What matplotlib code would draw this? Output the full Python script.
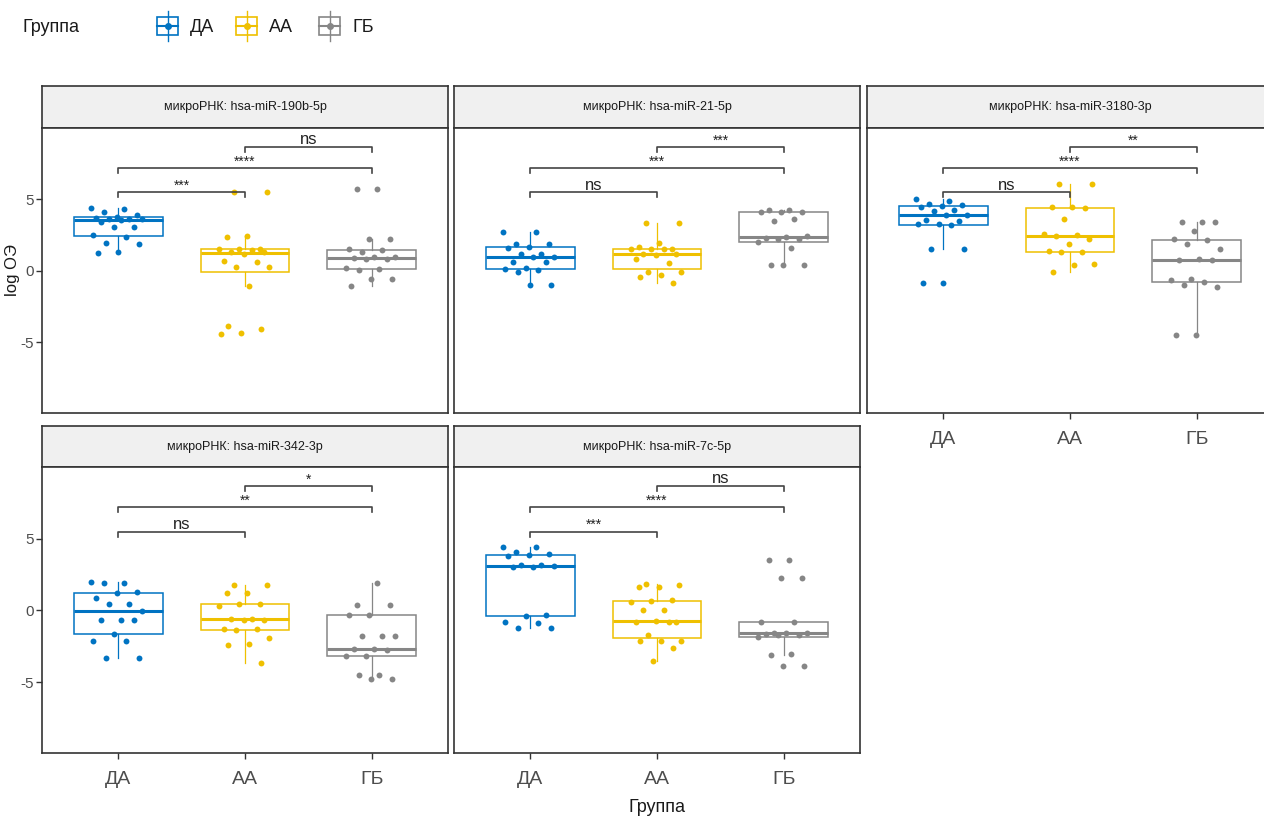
import numpy as np
import matplotlib.pyplot as plt
from matplotlib.patches import Rectangle

plt.rcParams['font.family'] = ['Liberation Sans', 'DejaVu Sans']
plt.rcParams['axes.unicode_minus'] = False

groups = ['ДА', 'АА', 'ГБ']
group_colors = ['#0073C2', '#EFC000', '#868686']

mirnas = ['hsa-miR-190b-5p', 'hsa-miR-21-5p', 'hsa-miR-3180-3p', 'hsa-miR-342-3p', 'hsa-miR-7c-5p']

# log ОЭ per group
mir190b_da = [4.4, 4.3, 4.1, 3.9, 3.8, 3.7, 3.65, 3.6, 3.6, 3.55, 3.4, 3.1, 3.1, 2.5, 2.4, 1.95, 1.9, 1.3, 1.25]
mir190b_aa = [5.5, 5.5, 2.45, 2.4, 1.55, 1.55, 1.5, 1.45, 1.35, 1.3, 1.2, 0.7, 0.6, 0.3, 0.25, -1.05, -3.85, -4.1, -4.35, -4.4]
mir190b_gb = [5.7, 5.7, 2.25, 2.2, 1.5, 1.45, 1.3, 1.0, 0.95, 0.9, 0.85, 0.85, 0.2, 0.15, 0.05, -0.55, -0.6, -1.05]

mir21_da = [2.7, 2.7, 1.9, 1.85, 1.7, 1.6, 1.2, 1.15, 0.95, 0.95, 0.65, 0.65, 0.2, 0.15, 0.05, -0.05, -1.0, -1.0]
mir21_aa = [3.35, 3.35, 1.95, 1.7, 1.55, 1.55, 1.55, 1.5, 1.2, 1.2, 1.1, 0.8, 0.55, -0.05, -0.05, -0.3, -0.4, -0.85]
mir21_gb = [4.25, 4.25, 4.15, 4.1, 4.1, 3.6, 3.5, 2.45, 2.4, 2.3, 2.2, 2.2, 2.0, 1.6, 0.4, 0.4, 0.4]

mir3180_da = [5.0, 4.9, 4.7, 4.6, 4.55, 4.5, 4.25, 4.2, 3.9, 3.9, 3.55, 3.5, 3.3, 3.25, 3.2, 1.55, 1.55, -0.85, -0.85]
mir3180_aa = [6.1, 6.1, 4.5, 4.45, 4.4, 3.6, 2.55, 2.5, 2.45, 2.2, 1.9, 1.4, 1.35, 1.35, 0.45, 0.4, -0.05]
mir3180_gb = [3.4, 3.4, 3.4, 2.8, 2.2, 2.15, 1.9, 1.5, 0.8, 0.75, 0.75, -0.6, -0.65, -0.8, -1.0, -1.1, -4.5, -4.5]

mir342_da = [2.0, 1.9, 1.9, 1.25, 1.2, 0.85, 0.45, 0.45, -0.05, -0.65, -0.65, -0.7, -1.65, -2.15, -2.15, -3.3, -3.3]
mir342_aa = [1.8, 1.75, 1.2, 1.2, 0.45, 0.45, 0.3, -0.6, -0.6, -0.65, -0.7, -1.3, -1.3, -1.35, -1.9, -2.35, -2.4, -3.65]
mir342_gb = [1.9, 0.4, 0.4, -0.3, -0.3, -1.8, -1.8, -1.8, -2.7, -2.7, -2.75, -3.2, -3.2, -4.5, -4.5, -4.8, -4.8]

mir7c_da = [4.45, 4.4, 4.1, 3.95, 3.85, 3.8, 3.15, 3.15, 3.1, 3.0, 3.0, -0.35, -0.4, -0.8, -0.85, -1.2, -1.25]
mir7c_aa = [1.85, 1.8, 1.65, 1.6, 0.7, 0.65, 0.6, 0.05, 0.05, -0.78, -0.75, -0.8, -0.8, -1.7, -2.15, -2.15, -2.15, -2.6, -3.55]
mir7c_gb = [3.5, 3.5, 2.25, 2.25, -0.8, -0.8, -1.55, -1.6, -1.6, -1.65, -1.7, -1.75, -1.85, -3.05, -3.1, -3.85, -3.85]

# pairwise comparisons: ДА-АА, ДА-ГБ, АА-ГБ
comparisons = [(0, 1), (0, 2), (1, 2)]
bracket_y = [5.5, 7.2, 8.7]
signif_190b = ['***', '****', 'ns']
signif_21 = ['ns', '***', '***']
signif_3180 = ['ns', '****', '**']
signif_342 = ['ns', '**', '*']
signif_7c = ['***', '****', 'ns']

panel_data = [
    [mir190b_da, mir190b_aa, mir190b_gb],
    [mir21_da, mir21_aa, mir21_gb],
    [mir3180_da, mir3180_aa, mir3180_gb],
    [mir342_da, mir342_aa, mir342_gb],
    [mir7c_da, mir7c_aa, mir7c_gb],
]
panel_signif = [signif_190b, signif_21, signif_3180, signif_342, signif_7c]

W, H = 1264, 821
fig = plt.figure(figsize=(W / 100, H / 100), dpi=100)


def px_axes(x0, y0, x1, y1):
    return fig.add_axes([x0 / W, 1 - y1 / H, (x1 - x0) / W, (y1 - y0) / H])


col_x = [42, 454, 867]
panel_w = 406
rows = [(86, 128, 413), (426, 467, 753)]  # strip top, panel top, panel bottom
edge = '#333333'

for k in range(5):
    r, c = divmod(k, 3)
    strip_top, top, bottom = rows[r]
    x0 = col_x[c]

    st = px_axes(x0, strip_top, x0 + panel_w, top)
    st.set_facecolor('#F0F0F0')
    st.set_xticks([])
    st.set_yticks([])
    for s in st.spines.values():
        s.set_color(edge)
        s.set_linewidth(1.2)
    st.text(0.5, 0.5, 'микроРНК: ' + mirnas[k], ha='center', va='center',
            fontsize=9, color='#1A1A1A', transform=st.transAxes)

    ax = px_axes(x0, top, x0 + panel_w, bottom)
    for s in ax.spines.values():
        s.set_color(edge)
        s.set_linewidth(1.2)

    for g in range(3):
        vals = np.array(panel_data[k][g])
        col = group_colors[g]
        ax.boxplot(vals, positions=[g + 1], widths=0.7, showfliers=False,
                   showcaps=False, patch_artist=True,
                   boxprops=dict(facecolor='white', edgecolor=col, linewidth=1.1),
                   medianprops=dict(color=col, linewidth=2.2),
                   whiskerprops=dict(color=col, linewidth=0.9))
        n = len(vals)
        jit = (((np.arange(n) * 0.618034 + 0.3 * g) % 1) - 0.5) * 0.42
        ax.scatter(g + 1 + jit, vals, s=18, color=col, zorder=3, linewidths=0)

    for (a, b), yb, lab in zip(comparisons, bracket_y, panel_signif[k]):
        ax.plot([a + 1, a + 1, b + 1, b + 1], [yb - 0.35, yb, yb, yb - 0.35],
                color='#444444', lw=1.2, zorder=4)
        ax.text((a + b) / 2 + 1, yb - 0.05, lab, ha='center', va='bottom',
                fontsize=12 if lab == 'ns' else 10, color='#222222')

    ax.set_xlim(0.4, 3.6)
    ax.set_ylim(-9.95, 10)
    ax.set_yticks([-5, 0, 5])
    ax.set_xticks([1, 2, 3])
    ax.tick_params(length=4, color=edge, width=1)
    if c == 0:
        ax.set_yticklabels(['-5', '0', '5'], fontsize=11, color='#4D4D4D')
        ax.tick_params(axis='y', pad=2)
    else:
        ax.tick_params(axis='y', left=False, labelleft=False)
    if r == 1 or k == 2:
        ax.set_xticklabels(groups, fontsize=14, color='#4D4D4D')
        ax.tick_params(axis='x', pad=9)
    else:
        ax.tick_params(axis='x', bottom=False, labelbottom=False)

fig.text(12 / W, 1 - 270 / H, 'log ОЭ', rotation=90, ha='center', va='center', fontsize=12, color='#1A1A1A')
fig.text(657 / W, 1 - 807 / H, 'Группа', ha='center', va='center', fontsize=13, color='#1A1A1A')

# legend drawn in pixel space
lg = fig.add_axes([0, 0, 1, 1])
lg.set_xlim(0, W)
lg.set_ylim(H, 0)
lg.axis('off')
lg.patch.set_alpha(0)
lg.text(22, 28, 'Группа', ha='left', va='center', fontsize=13, color='#1A1A1A')
key_x = [157, 236, 319]
for g in range(3):
    col = group_colors[g]
    kx = key_x[g]
    lg.add_patch(Rectangle((kx, 17), 21, 18, fill=False, edgecolor=col, lw=1.2))
    lg.plot([kx + 10.5, kx + 10.5], [11, 41], color=col, lw=1)
    lg.plot([kx, kx + 21], [26, 26], color=col, lw=1.5)
    lg.scatter([kx + 10.5], [26], s=16, color=col, zorder=3)
    lg.text(kx + 33, 28, groups[g], ha='left', va='center', fontsize=13, color='#1A1A1A')

fig.savefig('out.png', dpi=100)
